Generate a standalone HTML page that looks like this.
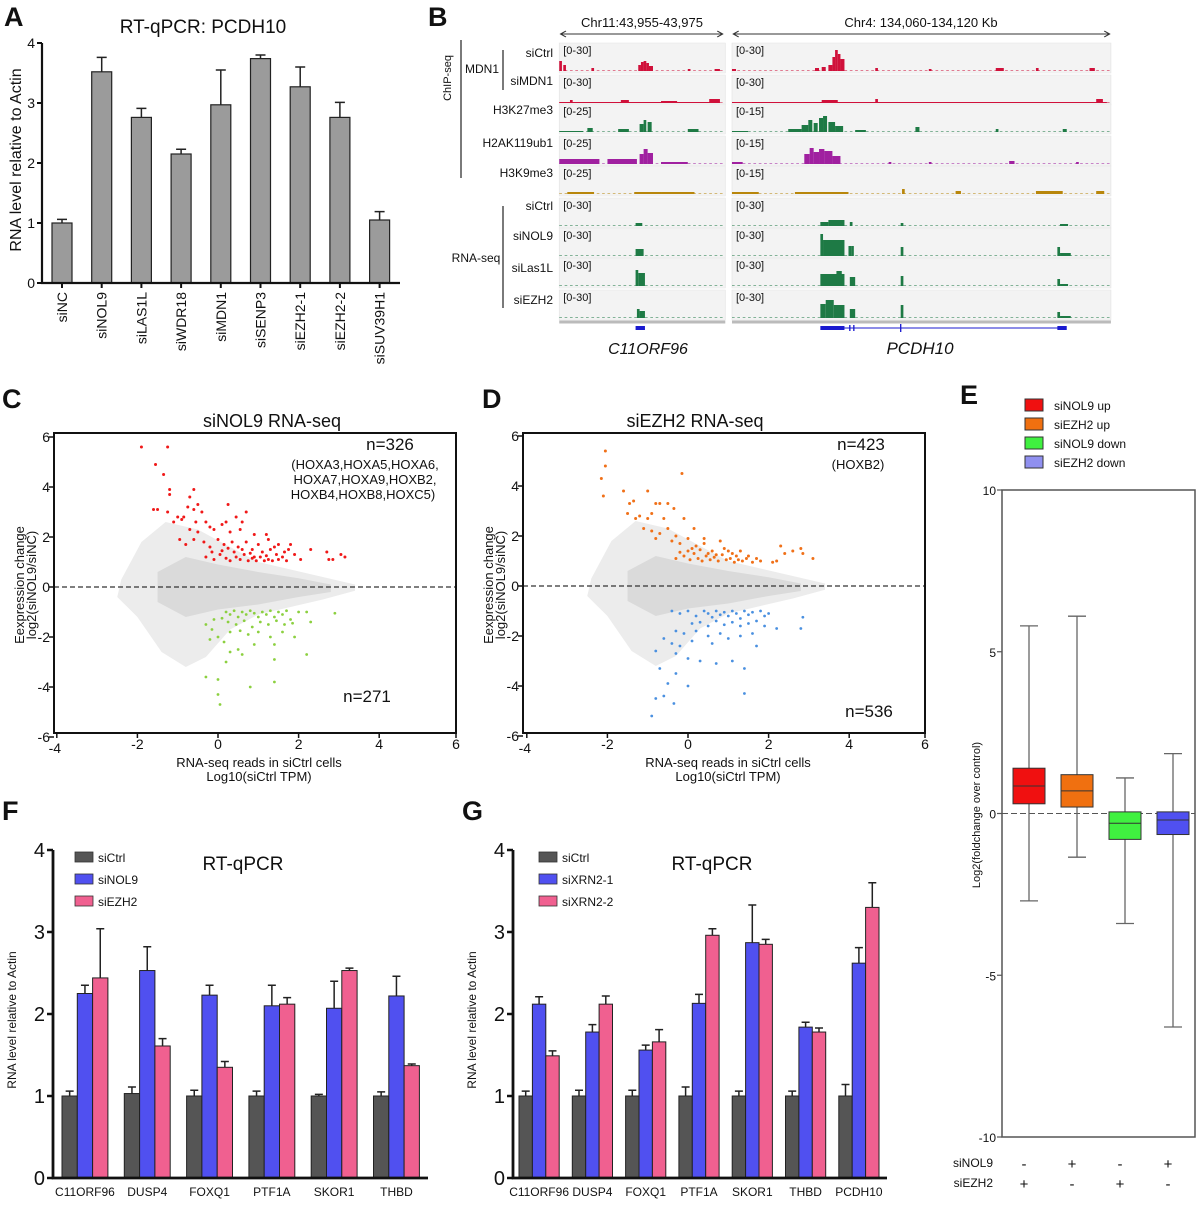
<!DOCTYPE html>
<html><head><meta charset="utf-8"><style>
body{margin:0;background:#fff}
svg text{font-family:"Liberation Sans",Arial,sans-serif;fill:#111}
</style></head><body>
<svg id="fig" xmlns="http://www.w3.org/2000/svg" width="1197" height="1200" viewBox="0 0 1197 1200">
<rect width="1197" height="1200" fill="#fff"/>
<g font-weight="bold" font-size="27">
<text x="4" y="26">A</text>
<text x="428" y="26">B</text>
<text x="2" y="408">C</text>
<text x="482" y="408">D</text>
<text x="960" y="404">E</text>
<text x="2" y="820">F</text>
<text x="462" y="820">G</text>
</g>
<g id="pA"></g>
<g id="pB"></g>
<g id="pC"></g>
<g id="pD"></g>
<g id="pE"></g>
<g id="pF"></g>
<g id="pG"></g>
</svg>
<script>
// ---------- data ----------
const catsA = ["siNC","siNOL9","siLAS1L","siWDR18","siMDN1","siSENP3","siEZH2-1","siEZH2-2","siSUV39H1"];
const valsA = [1.0,3.52,2.76,2.15,2.97,3.74,3.27,2.76,1.05];
const errA = [0.06,0.24,0.15,0.08,0.58,0.06,0.33,0.25,0.14];
const ticksA = [0,1,2,3,4];

const catsF = ["C11ORF96","DUSP4","FOXQ1","PTF1A","SKOR1","THBD"];
const seriesF = ["siCtrl","siNOL9","siEZH2"];
const ctrlF = [1.0,1.03,1.0,1.0,1.0,1.0];
const ctrlErrF = [0.06,0.08,0.07,0.06,0.02,0.05];
const nol9F = [2.25,2.53,2.23,2.1,2.07,2.22];
const nol9ErrF = [0.1,0.29,0.12,0.25,0.33,0.24];
const ezh2F = [2.44,1.61,1.35,2.12,2.53,1.37];
const ezh2ErrF = [0.6,0.09,0.07,0.08,0.03,0.02];

const catsG = ["C11ORF96","DUSP4","FOXQ1","PTF1A","SKOR1","THBD","PCDH10"];
const seriesG = ["siCtrl","siXRN2-1","siXRN2-2"];
const ctrlG = [1,1,1,1,1,1,1];
const ctrlErrG = [0.06,0.07,0.07,0.11,0.06,0.06,0.14];
const xrn1G = [2.12,1.78,1.56,2.13,2.87,1.84,2.62];
const xrn1ErrG = [0.09,0.09,0.06,0.11,0.46,0.06,0.19];
const xrn2G = [1.49,2.12,1.66,2.96,2.85,1.78,3.30];
const xrn2ErrG = [0.06,0.1,0.15,0.08,0.06,0.05,0.30];
const ticksFG = [0,1,2,3,4];

const catsE = ["siNOL9 up","siEZH2 up","siNOL9 down","siEZH2 down"];
const whiskHiE = [5.8,6.1,1.1,1.85];
const whiskLoE = [-2.7,-1.35,-3.4,-6.6];
const q3E = [1.4,1.2,0.05,0.05];
const q1E = [0.3,0.2,-0.8,-0.65];
const medE = [0.85,0.7,-0.3,-0.2];
const ticksE = [10,5,0,-5,-10];
const tickLabelsE = ["10","5","0","-5","-10"];

const xTicksCD = [-4,-2,0,2,4,6];
const yTicksCD = [6,4,2,0,-2,-4,-6];
const upC = [[-1.9,5.6],[-1.25,5.6],[-1.55,4.9],[-1.35,4.5],[-1.2,3.9],[-1.2,3.7],[-0.6,3.9],[-0.7,3.6],[-1.5,3.1],[-1.6,3.1],[-1.25,3.0],[-0.75,3.2],[-0.6,3.1],[-0.5,3.3],[0.25,3.3],[0.7,3.0],[-0.4,3.0],[-1.0,2.8],[-0.9,2.7],[-0.85,2.8],[-1.1,2.6],[-0.55,2.6],[-0.3,2.6],[0.45,2.8],[0.2,2.6],[0.6,2.6],[-0.2,2.4],[0.1,2.5],[-0.7,2.3],[-0.5,2.2],[-0.1,2.3],[0.3,2.2],[0.55,2.3],[0.9,2.1],[1.2,2.1],[1.25,1.9],[1.5,1.7],[1.8,1.7],[2.3,1.5],[2.7,1.4],[2.75,1.1],[2.85,1.1],[3.05,1.3],[3.15,1.2],[2.05,1.1],[1.9,1.3],[1.65,1.4],[-0.95,1.9],[-0.8,1.7],[-0.6,1.9],[-0.35,1.8],[-0.2,1.6],[0.0,1.9],[0.15,1.7],[0.35,1.8],[0.5,1.6],[0.7,1.8],[0.85,1.5],[1.0,1.7],[1.1,1.4],[1.3,1.5],[1.45,1.3],[1.6,1.2],[-0.3,1.2],[-0.1,1.1],[0.05,1.3],[0.2,1.15],[0.3,1.05],[0.45,1.2],[0.55,1.1],[0.65,1.3],[0.75,1.05],[0.85,1.15],[0.95,1.05],[1.05,1.2],[1.15,1.05],[1.25,1.1],[1.35,1.05],[1.5,1.1],[1.7,1.05],[0.1,1.45],[0.4,1.4],[0.6,1.5],[0.8,1.35],[1.2,1.25],[-0.15,1.4],[0.25,1.55],[0.9,1.2],[1.4,1.6],[1.75,1.5]];
const downC = [[0.2,-1.0],[0.3,-1.1],[0.4,-0.95],[0.5,-1.2],[0.6,-1.0],[0.7,-1.1],[0.8,-0.95],[0.9,-1.05],[1.0,-1.2],[1.1,-1.0],[1.2,-1.1],[1.3,-0.95],[1.4,-1.2],[1.5,-1.0],[1.6,-1.1],[1.7,-0.95],[1.8,-1.3],[2.0,-1.0],[2.2,-1.0],[2.3,-1.4],[0.25,-1.4],[0.45,-1.5],[0.65,-1.35],[0.85,-1.6],[1.05,-1.4],[1.25,-1.5],[1.45,-1.35],[1.65,-1.5],[1.85,-1.45],[0.1,-1.25],[-0.1,-1.3],[-0.3,-1.5],[-0.15,-1.7],[0.3,-1.8],[0.55,-1.75],[0.75,-1.9],[1.0,-1.8],[1.3,-2.0],[1.6,-1.8],[-0.2,-2.1],[0.0,-2.0],[0.15,-2.2],[1.9,-2.0],[0.3,-2.6],[0.5,-2.5],[0.9,-2.3],[1.4,-2.3],[2.2,-2.7],[1.4,-2.9],[0.2,-3.0],[-0.3,-3.6],[0.0,-3.7],[1.4,-3.8],[0.8,-4.0],[0.0,-4.3],[0.05,-4.7],[2.9,-1.05],[0.6,-2.7]];
const upD = [[-2.05,5.4],[-2.05,4.8],[-2.15,4.3],[-1.6,3.8],[-1.0,3.8],[-0.15,4.5],[-2.1,3.6],[-1.45,3.3],[-1.35,3.4],[-0.8,3.3],[-0.7,3.3],[-0.5,3.3],[-0.35,3.1],[-1.5,2.9],[-1.3,2.7],[-1.2,2.8],[-1.0,2.7],[-0.9,2.9],[-0.6,2.7],[-0.1,2.7],[-1.1,2.3],[-0.9,2.2],[-0.7,2.1],[-0.5,2.3],[-0.3,2.0],[0.15,2.3],[-0.8,1.9],[-0.4,1.8],[-0.2,1.7],[0.0,1.9],[0.2,1.6],[0.4,1.7],[0.6,1.4],[0.8,1.8],[0.9,1.5],[1.1,1.3],[1.3,1.4],[1.5,1.2],[1.7,1.1],[2.3,1.6],[2.4,1.3],[2.6,1.4],[2.8,1.5],[2.85,1.3],[3.1,1.1],[2.1,0.95],[2.2,1.0],[1.8,1.0],[-0.3,1.1],[-0.1,1.2],[0.05,1.05],[0.15,1.3],[0.25,1.1],[0.35,1.0],[0.45,1.2],[0.55,1.05],[0.65,1.15],[0.75,1.0],[0.85,1.25],[0.95,1.05],[1.05,1.1],[1.15,0.95],[1.25,1.05],[1.35,1.0],[1.45,1.1],[1.6,0.95],[0.1,1.5],[0.3,1.45],[0.5,1.3],[0.7,1.25],[0.0,1.4],[-0.2,1.35],[1.0,1.4],[1.2,1.2],[0.4,1.9]];
const downD = [[-0.4,-1.0],[-0.2,-1.1],[0.0,-1.0],[0.2,-1.2],[0.4,-1.0],[0.5,-1.1],[0.6,-1.25],[0.7,-1.0],[0.8,-1.15],[0.9,-1.05],[1.0,-1.2],[1.1,-1.0],[1.2,-1.1],[1.3,-1.3],[1.4,-1.0],[1.5,-1.15],[1.6,-1.05],[1.8,-1.0],[1.9,-1.2],[2.0,-1.1],[0.1,-1.5],[0.3,-1.45],[0.5,-1.6],[0.7,-1.4],[0.9,-1.55],[1.1,-1.45],[1.3,-1.6],[1.5,-1.5],[1.7,-1.4],[1.9,-1.6],[2.2,-1.7],[2.8,-1.7],[2.85,-1.25],[-0.3,-1.8],[-0.1,-1.9],[0.2,-1.8],[0.5,-2.0],[0.8,-1.9],[1.0,-2.1],[1.3,-2.0],[1.6,-1.9],[-0.6,-2.1],[-0.4,-2.3],[-0.2,-2.4],[0.1,-2.2],[0.6,-2.3],[1.7,-2.4],[-0.8,-2.6],[-0.3,-2.7],[0.0,-2.9],[0.3,-3.0],[0.7,-3.1],[1.1,-3.0],[1.4,-3.3],[-0.7,-3.3],[-0.3,-3.5],[-0.5,-3.9],[0.0,-4.0],[1.4,-4.3],[-0.8,-4.5],[-0.35,-4.7],[-0.9,-5.2],[-0.6,-4.4]];

// ---------- helpers ----------
const NS="http://www.w3.org/2000/svg";
function mk(tag, attrs, parent, txt){
  const e=document.createElementNS(NS,tag);
  for(const k in attrs) e.setAttribute(k,attrs[k]);
  if(txt!==undefined) e.textContent=txt;
  parent.appendChild(e); return e;
}
const $=id=>document.getElementById(id);

// ---------- Panel A ----------
(function(){
  const g=$('pA');
  const yA=v=>283-v*60, xA=i=>62+i*39.7;
  let t=mk('text',{x:203,y:33,'font-size':19,'text-anchor':'middle'},g,'RT-qPCR: PCDH10');
  
  
  t=mk('text',{x:0,y:0,'font-size':16,'text-anchor':'middle',transform:'translate(21,160) rotate(-90)'},g,'RNA level relative to Actin');
  
  
  ticksA.forEach(v=>{
    const l=mk('line',{x1:37,x2:42,y1:yA(v),y2:yA(v),stroke:'#111','stroke-width':2},g);
    
    
    const tx=mk('text',{x:35,y:yA(v)+5,'font-size':14,'text-anchor':'end'},g,String(v));
    
    
  });
  catsA.forEach((c,i)=>{
    const x=xA(i), v=valsA[i], e=errA[i];
    const ln=mk('path',{d:`M${x} ${yA(v)}V${yA(v+e)}M${x-5} ${yA(v+e)}H${x+5}`,stroke:'#222','stroke-width':1.5,fill:'none'},g);
    
    
    const b=mk('rect',{x:x-10,y:yA(v),width:20,height:yA(0)-yA(v),fill:'#9b9b9b',stroke:'#222','stroke-width':1.2},g);
    
    
    const tk=mk('line',{x1:x,x2:x,y1:283,y2:288,stroke:'#111','stroke-width':2},g);
    
    
    const lb=mk('text',{x:0,y:0,'font-size':14,'text-anchor':'end',transform:`translate(${x+5},292) rotate(-90)`},g,c);
    
    
  });
  const ax=mk('path',{d:'M42 43V283H400',stroke:'#111','stroke-width':2.2,fill:'none'},g);
  
  
})();

// ---------- Panel B (genome tracks) ----------
const rowTopsB=[43,75,104,136,166,198,228,258,290];
const nameYB=[57,85,114,147,177,210,240,272,304];
const rangeL=["[0-30]","[0-30]","[0-25]","[0-25]","[0-25]","[0-30]","[0-30]","[0-30]","[0-30]"];
const rangeR=["[0-30]","[0-30]","[0-15]","[0-15]","[0-15]","[0-30]","[0-30]","[0-30]","[0-30]"];
const colorsB=["#d0103a","#d0103a","#1e7a45","#a020a0","#b8860b","#1e7a45","#1e7a45","#1e7a45","#1e7a45"];
const peaksB=[
 [[524,2,10],[527,2,6],[548,2,3],[583,2,6],[585,2,9],[587,2,10],[589,2,8],[591,3,5],[620,2,2],[640,4,2],[653,3,2],[715,3,3],[720,3,4],[725,3,6],[728,2,14],[730,2,21],[732,2,17],[734,3,12],[760,2,3],[800,2,2],[850,6,3],[880,2,3],[920,4,3]],
 [[524,120,1],[532,2,3],[570,6,3],[600,12,2],[636,8,4],[653,280,1],[720,12,3],[760,2,4],[925,5,4]],
 [[524,18,1],[545,4,4],[568,8,3],[584,3,8],[587,2,12],[590,3,10],[620,8,3],[653,12,1],[695,10,3],[705,5,7],[710,3,12],[714,3,9],[718,3,14],[721,3,16],[725,5,10],[730,6,6],[745,8,2],[790,3,5],[850,2,3],[900,3,3]],
 [[524,30,5],[560,22,5],[584,3,10],[587,3,15],[590,4,11],[600,20,2],[653,8,2],[707,4,10],[711,3,16],[714,4,12],[718,4,15],[722,6,13],[728,6,8],[770,2,2],[800,2,2],[860,4,3],[910,2,2]],
 [[530,20,2],[580,20,2],[600,25,2],[653,20,2],[700,40,2],[780,2,5],[820,4,3],[880,20,3],[925,6,3]],
 [[581,5,3],[719,6,4],[725,12,6],[741,2,4],[779,2,3],[898,6,2]],
 [[581,6,7],[719,2,22],[721,16,16],[740,2,10],[742,2,10],[779,2,9],[896,2,9],[898,8,3]],
 [[581,2,16],[583,5,13],[719,18,12],[731,4,15],[741,2,9],[743,2,9],[779,2,10],[896,2,7],[898,6,2]],
 [[582,2,9],[584,4,7],[719,4,14],[723,6,18],[729,8,13],[741,2,9],[743,2,9],[779,2,13],[896,2,6],[898,8,2]]
];
const trackNamesB=["siCtrl","siMDN1","H3K27me3","H2AK119ub1","H3K9me3","siCtrl","siNOL9","siLas1L","siEZH2"];
(function(){
  const g=$('pB');
  const bx=x=>420+(x-420)*1.339;
  const gs=mk('g',{transform:'matrix(1.339,0,0,1,-142.38,0)'},g);
  
  
  [['Chr11:43,955-43,975',642,525,646,'locus-label-left'],['Chr4: 134,060-134,120 Kb',921,654,935,'locus-label-right']].forEach(a=>{
    const t=mk('text',{x:a[1],y:27,'font-size':13,'text-anchor':'middle'},g,a[0]);
    
    
    const l=mk('path',{d:`M${a[2]} 34H${a[3]}M${a[2]+4} 31L${a[2]} 34L${a[2]+4} 37M${a[3]-4} 31L${a[3]} 34L${a[3]-4} 37`,stroke:'#333','stroke-width':1,fill:'none'},gs);
    
    
  });
  rowTopsB.forEach((top,i)=>{
    [[524,124],[653,283]].forEach(([x0,w],ci)=>{
      const bg=mk('rect',{x:x0,y:top,width:w,height:30,fill:'#f3f3f3',stroke:'#e4e4e4','stroke-width':0.5},gs);
      
      
      const bl=mk('line',{x1:x0,x2:x0+w,y1:top+27.5,y2:top+27.5,stroke:colorsB[i],'stroke-width':0.7,'stroke-dasharray':'2 2',opacity:0.7},gs);
      
      
    });
    peaksB[i].forEach(p=>{
      const base=top+28;
      const pk=mk('rect',{x:p[0],y:base-p[2],width:p[1],height:p[2],fill:colorsB[i]},gs);
      
      
    });
    [[524,rangeL[i]],[653,rangeR[i]]].forEach(([x0,s])=>{
      const r=mk('text',{x:bx(x0)+4,y:top+11,'font-size':11},g,s);
      
      
    });
    const n=mk('text',{x:553,y:nameYB[i],'font-size':12,'text-anchor':'end'},g,trackNamesB[i]);
    
    
  });
  let t=mk('text',{x:0,y:0,'font-size':11,'text-anchor':'middle',transform:'translate(451,78) rotate(-90)'},g,'ChIP-seq');
  
  
  t=mk('text',{x:482,y:73,'font-size':12,'text-anchor':'middle'},g,'MDN1');
  
  
  t=mk('text',{x:476,y:262,'font-size':12,'text-anchor':'middle'},g,'RNA-seq');
  
  
  const br=mk('path',{d:'M461 40V178M503 50V90M503 206V308',stroke:'#222','stroke-width':1.2,fill:'none'},g);
  
  
  const gt=mk('path',{d:'M524 322H648M653 322H936',stroke:'#bbb','stroke-width':3},gs);
  
  
  const gm=mk('path',{d:'M581 328H588M719 328H737M896 328H903',stroke:'#1a1ad0','stroke-width':4,fill:'none'},gs);
  
  
  const gl=mk('path',{d:'M737 328H897M741 325V331M744 325V331M779 324V332',stroke:'#1a1ad0','stroke-width':1,fill:'none'},gs);
  
  
  t=mk('text',{x:648,y:354,'font-size':16,'font-style':'italic','text-anchor':'middle'},g,'C11ORF96');
  
  
  t=mk('text',{x:920,y:354,'font-size':17,'font-style':'italic','text-anchor':'middle'},g,'PCDH10');
  
  
})();

// ---------- Panels C & D (MA plots) ----------
function maPlot(g, fx, x0, y0, title, titleX, ups, downs, upColor, downColor, nUp, nUpX, sub, nDown, nDownX, nDownY){
  const sx=v=>x0+v*40.3, sy=v=>y0-v*25;
  const cloud=[[-2.4,0.3],[-1.9,1.8],[-1.3,2.6],[-0.5,2.3],[0.3,1.6],[1.0,1.0],[1.8,0.7],[2.6,0.4],[3.4,0.1],[3.4,-0.15],[2.6,-0.5],[1.8,-0.8],[1.0,-1.1],[0.3,-1.7],[-0.3,-2.8],[-0.8,-3.2],[-1.4,-2.6],[-2.0,-1.2],[-2.5,-0.4]];
  let d=cloud.map((p,i)=>(i?'L':'M')+sx(p[0])+' '+sy(p[1])).join('')+'Z';
  const c1=mk('path',{d,fill:'#ececec'},g);
  
  
  const core=[[-1.5,0.6],[-0.8,1.2],[0,0.9],[1,0.6],[2,0.35],[2.8,0.1],[2.8,-0.2],[2,-0.4],[1,-0.7],[0,-0.9],[-0.8,-1.2],[-1.5,-0.6]];
  d=core.map((p,i)=>(i?'L':'M')+sx(p[0])+' '+sy(p[1])).join('')+'Z';
  const c2=mk('path',{d,fill:'#dadada'},g);
  
  
  ups.forEach(p=>{
    const pt=mk('circle',{cx:sx(p[0]),cy:sy(p[1]),r:1.5,fill:upColor},g);
    
    
  });
  downs.forEach(p=>{
    const pt=mk('circle',{cx:sx(p[0]),cy:sy(p[1]),r:1.4,fill:downColor},g);
    
    
  });
  const zl=mk('line',{x1:fx,x2:fx+402,y1:sy(0),y2:sy(0),stroke:'#333','stroke-width':1.3,'stroke-dasharray':'5 3'},g);
  
  
  const fr=mk('rect',{x:fx,y:433,width:402,height:300,fill:'none',stroke:'#111','stroke-width':2},g);
  
  
  yTicksCD.forEach(v=>{
    const l=mk('line',{x1:fx-5,x2:fx,y1:sy(v),y2:sy(v),stroke:'#111','stroke-width':1.5},g);
    
    
    const t=mk('text',{x:fx-4,y:sy(v)+5,'font-size':14,'text-anchor':'end'},g,String(v));
    
    
  });
  xTicksCD.forEach(v=>{
    const x=Math.max(fx,Math.min(fx+402,sx(v)));
    const l=mk('line',{x1:x,x2:x,y1:733,y2:738,stroke:'#111','stroke-width':1.5},g);
    
    
    const t=mk('text',{x:v===-4?x-2:x,y:v===-4?753:749,'font-size':14,'text-anchor':'middle'},g,String(v));
    
    
  });
  let t=mk('text',{x:titleX,y:427,'font-size':18,'text-anchor':'middle'},g,title);
  
  
  t=mk('text',{x:fx+205,y:767,'font-size':13,'text-anchor':'middle'},g,'RNA-seq reads in siCtrl cells');
  
  
  t=mk('text',{x:fx+205,y:781,'font-size':13,'text-anchor':'middle'},g,'Log10(siCtrl TPM)');
  
  
  t=mk('text',{x:0,y:0,'font-size':13,'text-anchor':'middle',transform:`translate(${fx-30},585) rotate(-90)`},g,'Eexpression change');
  
  
  t=mk('text',{x:0,y:0,'font-size':13,'text-anchor':'middle',transform:`translate(${fx-18},585) rotate(-90)`},g,'log2(siNOL9/siNC)');
  
  
  t=mk('text',{x:nUpX,y:450,'font-size':17,'text-anchor':'middle'},g,nUp);
  
  
  sub.forEach((s,i)=>{
    const st=mk('text',{x:s[1],y:469+i*15,'font-size':13,'text-anchor':'middle'},g,s[0]);
    
    
  });
  t=mk('text',{x:nDownX,y:nDownY,'font-size':17,'text-anchor':'middle'},g,nDown);
  
  
}
maPlot($('pC'),54,218,587,'siNOL9 RNA-seq',272,upC,downC,'#f01818','#8cd040','n=326',390,
  [['(HOXA3,HOXA5,HOXA6,',365],['HOXA7,HOXA9,HOXB2,',365],['HOXB4,HOXB8,HOXC5)',363]],'n=271',367,702);
maPlot($('pD'),523,688,586,'siEZH2 RNA-seq',695,upD,downD,'#f07018','#4a90e0','n=423',861,
  [['(HOXB2)',858]],'n=536',869,717);

// ---------- Panel E (box plot) ----------
(function(){
  const g=$('pE');
  const yE=v=>813.5-v*32.35, xE=i=>1029+i*48;
  const cols=['#f01010','#f07010','#40f040','#5050f0'];
  const lcols=['#f01010','#f07010','#40f040','#9090f0'];
  catsE.forEach((c,i)=>{
    const s=mk('rect',{x:1025,y:399+i*19,width:18,height:12,fill:lcols[i],stroke:'#333','stroke-width':1},g);
    
    
    const t=mk('text',{x:1054,y:410+i*19,'font-size':12},g,c);
    
    
  });
  const fr=mk('path',{d:`M1002 ${yE(10)}H1195V${yE(-10)}H1002Z`,stroke:'#555','stroke-width':1.5,fill:'none'},g);
  
  
  ticksE.forEach((v,i)=>{
    const l=mk('line',{x1:997,x2:1002,y1:yE(v),y2:yE(v),stroke:'#555','stroke-width':1.2},g);
    
    
    const t=mk('text',{x:996,y:yE(v)+5,'font-size':12,'text-anchor':'end'},g,tickLabelsE[i]);
    
    
  });
  const zl=mk('line',{x1:1002,x2:1195,y1:yE(0),y2:yE(0),stroke:'#555','stroke-width':1,'stroke-dasharray':'6 3'},g);
  
  
  catsE.forEach((c,i)=>{
    const x=xE(i);
    const w=mk('path',{d:`M${x} ${yE(whiskHiE[i])}V${yE(whiskLoE[i])}M${x-9} ${yE(whiskHiE[i])}H${x+9}M${x-9} ${yE(whiskLoE[i])}H${x+9}`,stroke:'#666','stroke-width':1.3,fill:'none'},g);
    
    
    const b=mk('rect',{x:x-16,y:yE(q3E[i]),width:32,height:yE(q1E[i])-yE(q3E[i]),fill:cols[i],stroke:'#333','stroke-width':1},g);
    
    
    const m=mk('line',{x1:x-16,x2:x+16,y1:yE(medE[i]),y2:yE(medE[i]),stroke:'#333','stroke-width':1},g);
    
    
    const s1=mk('text',{x:x-5,y:1169,'font-size':15,'text-anchor':'middle'},g,i%2? '+':'-');
    
    
    const s2=mk('text',{x:x-5,y:1189,'font-size':15,'text-anchor':'middle'},g,i%2? '-':'+');
    
    
  });
  let t=mk('text',{x:0,y:0,'font-size':11,'text-anchor':'middle',transform:'translate(980,815) rotate(-90)'},g,'Log2(foldchange over control)');
  
  
  t=mk('text',{x:993,y:1167,'font-size':12,'text-anchor':'end'},g,'siNOL9');
  
  
  t=mk('text',{x:993,y:1187,'font-size':12,'text-anchor':'end'},g,'siEZH2');
  
  
})();

// ---------- Panels F & G (grouped bars) ----------
function grouped(g, cats, series, vals, errs, axX, axEnd, start, step, bw, legX, titleX){
  const y=v=>1178-v*82;
  const cols=['#555555','#5050f0','#f06090'];
  let t=mk('text',{x:titleX,y:870,'font-size':19,'text-anchor':'middle'},g,'RT-qPCR');
  
  
  series.forEach((s,k)=>{
    const sw=mk('rect',{x:legX,y:852+k*22,width:18,height:10,fill:cols[k],stroke:'#333','stroke-width':0.8},g);
    
    
    const lt=mk('text',{x:legX+23,y:862+k*22,'font-size':12},g,s);
    
    
  });
  cats.forEach((c,i)=>{
    for(let k=0;k<3;k++){
      const x=start+i*step+k*bw, v=vals[k][i], e=errs[k][i];
      const eb=mk('path',{d:`M${x+bw/2} ${y(v)}V${y(v+e)}M${x+bw/2-4} ${y(v+e)}H${x+bw/2+4}`,stroke:'#222','stroke-width':1.5,fill:'none'},g);
      
      
      const b=mk('rect',{x:x,y:y(v),width:bw,height:y(0)-y(v),fill:cols[k],stroke:'#222','stroke-width':1},g);
      
      
    }
    const lb=mk('text',{x:start+i*step+1.5*bw,y:1196,'font-size':12,'text-anchor':'middle'},g,c);
    
    
  });
  ticksFG.forEach(v=>{
    const l=mk('line',{x1:axX-6,x2:axX,y1:y(v),y2:y(v),stroke:'#111','stroke-width':2.5},g);
    
    
    const tx=mk('text',{x:axX-8,y:y(v)+7,'font-size':20,'text-anchor':'end'},g,String(v));
    
    
  });
  const ax=mk('path',{d:`M${axX} ${y(4)}V${y(0)}H${axEnd}`,stroke:'#111','stroke-width':2.8,fill:'none'},g);
  
  
  t=mk('text',{x:0,y:0,'font-size':12,'text-anchor':'middle',transform:`translate(${axX-37},1020) rotate(-90)`},g,'RNA level relative to Actin');
  
  
}
grouped($('pF'),catsF,seriesF,[ctrlF,nol9F,ezh2F],[ctrlErrF,nol9ErrF,ezh2ErrF],53,428,62,62.3,15.3,75,243);
grouped($('pG'),catsG,seriesG,[ctrlG,xrn1G,xrn2G],[ctrlErrG,xrn1ErrG,xrn2ErrG],513,887,519,53.3,13.4,539,712);
</script>
</body></html>
